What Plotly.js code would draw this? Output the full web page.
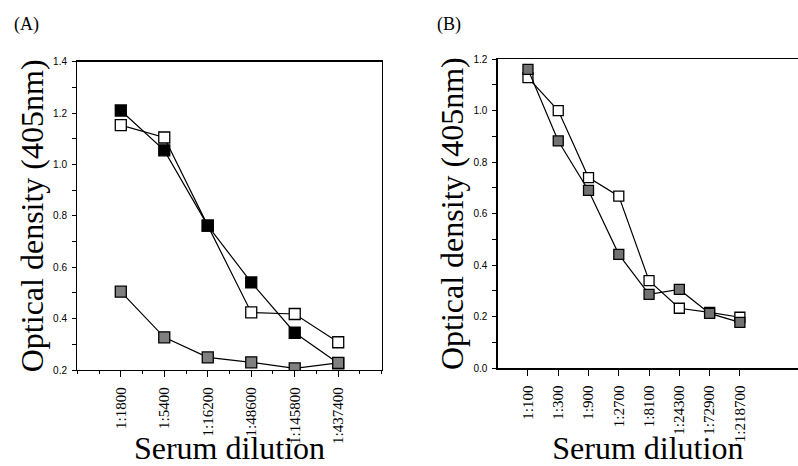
<!DOCTYPE html>
<html>
<head>
<meta charset="utf-8">
<script src="https://cdn.plot.ly/plotly-3.0.1.min.js"></script>
<style>html,body{margin:0;padding:0;background:#fff;}#chart{width:798px;height:466px;}</style>
</head>
<body>
<div id="chart"></div>
<script>
// Panel A
const dilutionsA = ["1:1800", "1:5400", "1:16200", "1:48600", "1:145800", "1:437400"];
const blackA = [1.21, 1.055, 0.762, 0.541, 0.345, 0.226];
const whiteA = [1.153, 1.105, 0.762, 0.424, 0.418, 0.308];
const grayA  = [0.505, 0.327, 0.249, 0.230, 0.206, 0.228];

// Panel B
const dilutionsB = ["1:100", "1:300", "1:900", "1:2700", "1:8100", "1:24300", "1:72900", "1:218700"];
const whiteB = [1.128, 1.0, 0.74, 0.668, 0.34, 0.233, 0.217, 0.198];
const grayB  = [1.16, 0.882, 0.69, 0.442, 0.287, 0.306, 0.213, 0.178];

const idxA = dilutionsA.map((_, i) => i);
const idxB = dilutionsB.map((_, i) => i);

const serif = "Liberation Serif, Times New Roman, serif";
const sans = "Liberation Sans, Arial, sans-serif";

function tr(x, y, fill, xa, ya, size) {
  return {
    x: x, y: y, xaxis: xa, yaxis: ya, type: "scatter", mode: "lines+markers",
    line: {color: "#000", width: 1.2},
    marker: {symbol: "square", size: size, color: fill, line: {color: "#000", width: 1.3}},
    showlegend: false, hoverinfo: "skip"
  };
}

const data = [
  tr(idxA, whiteA, "#ffffff", "x", "y", 11),
  tr(idxA, blackA, "#000000", "x", "y", 11),
  tr(idxA, grayA, "#808080", "x", "y", 11),
  tr(idxB, whiteB, "#ffffff", "x2", "y2", 10),
  tr(idxB, grayB, "#727272", "x2", "y2", 10)
];

const W = 798, H = 466;
const xAx = (d, range, vals, text) => ({
  domain: d, range: range, type: "linear",
  tickmode: "array", tickvals: vals, ticktext: text, tickangle: -90,
  ticks: "outside", ticklen: 6, tickwidth: 1, tickcolor: "#000",
  ticklabelstandoff: 4,
  showline: true, linecolor: "#000", linewidth: 1.3, showgrid: false, zeroline: false,
  tickfont: {family: serif, size: 15, color: "#000"},
  title: {text: "Serum dilution", font: {family: serif, size: 32, color: "#000"}, standoff: 0}
});
const yAx = (d, range, anchor) => ({
  domain: d, range: range, anchor: anchor,
  tickmode: "linear", dtick: 0.2, tickformat: ".1f",
  ticks: "outside", ticklen: 4, tickwidth: 1, tickcolor: "#000",
  ticklabelstandoff: 3,
  minor: {dtick: 0.1, ticks: "outside", ticklen: 4, tickwidth: 1, tickcolor: "#000", showgrid: false},
  showline: true, linecolor: "#000", linewidth: 1.3, showgrid: false, zeroline: false,
  tickfont: {family: sans, size: 10, color: "#000"},
  title: {text: "Optical density (405nm)", font: {family: serif, size: 32, color: "#000"}, standoff: 0}
});

const xa = xAx([77.3 / W, 381.7 / W], [-1, 6], idxA, dilutionsA);
xa.mirror = true;
xa.anchor = "y";
xa.minor = {tick0: -1, dtick: 0.5, ticks: "outside", ticklen: 3, tickcolor: "#000", showgrid: false};
const ya = yAx([(H - 370) / H, (H - 61.7) / H], [0.2, 1.4], "x");
ya.mirror = true;

const xb = xAx([497.7 / W, 1], [-1, 8.92], idxB, dilutionsB);
xb.mirror = true;
xb.anchor = "y2";
const yb = yAx([(H - 368.3) / H, (H - 59) / H], [0, 1.2], "x2");

const layout = {
  width: W, height: H,
  margin: {l: 0, r: 0, t: 0, b: 0},
  paper_bgcolor: "#fff", plot_bgcolor: "rgba(0,0,0,0)",
  xaxis: xa, yaxis: ya, xaxis2: xb, yaxis2: yb,
  annotations: [
    {text: "(A)", x: 12 / W, y: 1 - 25 / H, xref: "paper", yref: "paper", xanchor: "left", yanchor: "middle",
     showarrow: false, font: {family: serif, size: 18, color: "#000"}},
    {text: "(B)", x: 435 / W, y: 1 - 25 / H, xref: "paper", yref: "paper", xanchor: "left", yanchor: "middle",
     showarrow: false, font: {family: serif, size: 18, color: "#000"}}
  ]
};

Plotly.newPlot("chart", data, layout, {staticPlot: true, displayModeBar: false});
</script>
</body>
</html>
